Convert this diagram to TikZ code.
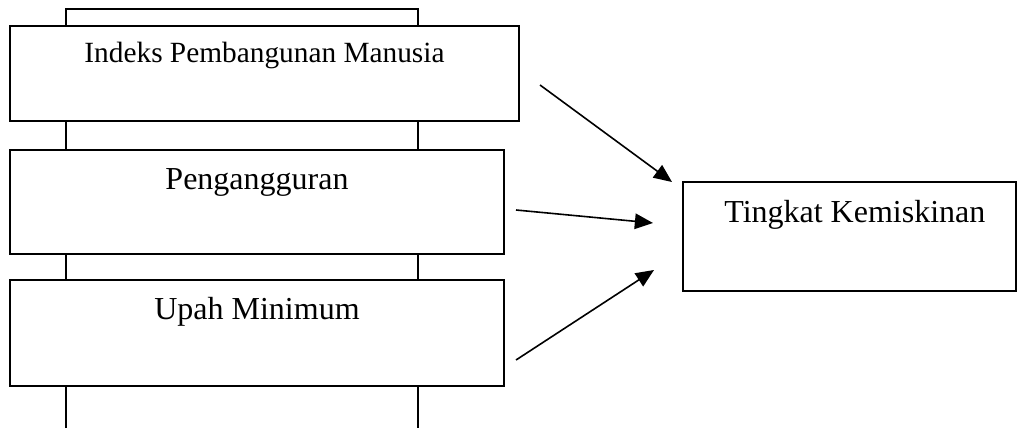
\documentclass[tikz,border=0pt]{standalone}
\usepackage{fontspec}
\setmainfont{Liberation Serif}
\usetikzlibrary{arrows.meta, positioning}

\begin{document}
\begin{tikzpicture}[x=0.375pt, y=-0.375pt,
    varbox/.style={draw, line width=0.75pt, fill=white, inner sep=0pt},
    boxtext/.style={anchor=base, font=\fontsize{12}{14}\selectfont},
    arr/.style={-{Triangle[length=6.8pt, width=5.8pt]}, line width=0.6pt}]
    \useasboundingbox (0,0) rectangle (1018,428);

    % Frame behind the boxes
    \coordinate (frameL) at (66,428);
    \coordinate (frameT) at (418,9);
    \coordinate (frameR) at (418,428);
    \draw[line width=0.75pt] (frameL) |- (frameT) -- (frameR);

    % Variables
    \node[varbox, minimum width=190.9pt, minimum height=35.6pt,
        label={[boxtext, font=\fontsize{11}{13}\selectfont, yshift=-13.9pt]north:Indeks Pembangunan Manusia}]
        (ipm) at (264.5,73.5) {};
    \node[varbox, minimum width=185.3pt, minimum height=39pt,
        label={[boxtext, yshift=-15pt]north:Pengangguran}]
        (unemp) at (257,202) {};
    \node[varbox, minimum width=185.3pt, minimum height=39.75pt,
        label={[boxtext, yshift=-15pt]north:Upah Minimum}]
        (wage) at (257,333) {};
    \node[varbox, minimum width=124.9pt, minimum height=40.9pt,
        label={[boxtext, xshift=2pt, yshift=-15.4pt]north:Tingkat Kemiskinan}]
        (poverty) at (849.5,236.5) {};

    % Arrows
    \coordinate (ipmOut) at (540,85);
    \coordinate (ipmIn) at (672,182);
    \coordinate (unempOut) at (516,210);
    \coordinate (unempIn) at (653,223);
    \coordinate (wageOut) at (516,360);
    \coordinate (wageIn) at (654,270);
    \draw[arr] (ipmOut) -- (ipmIn);
    \draw[arr] (unempOut) -- (unempIn);
    \draw[arr] (wageOut) -- (wageIn);
\end{tikzpicture}
\end{document}
